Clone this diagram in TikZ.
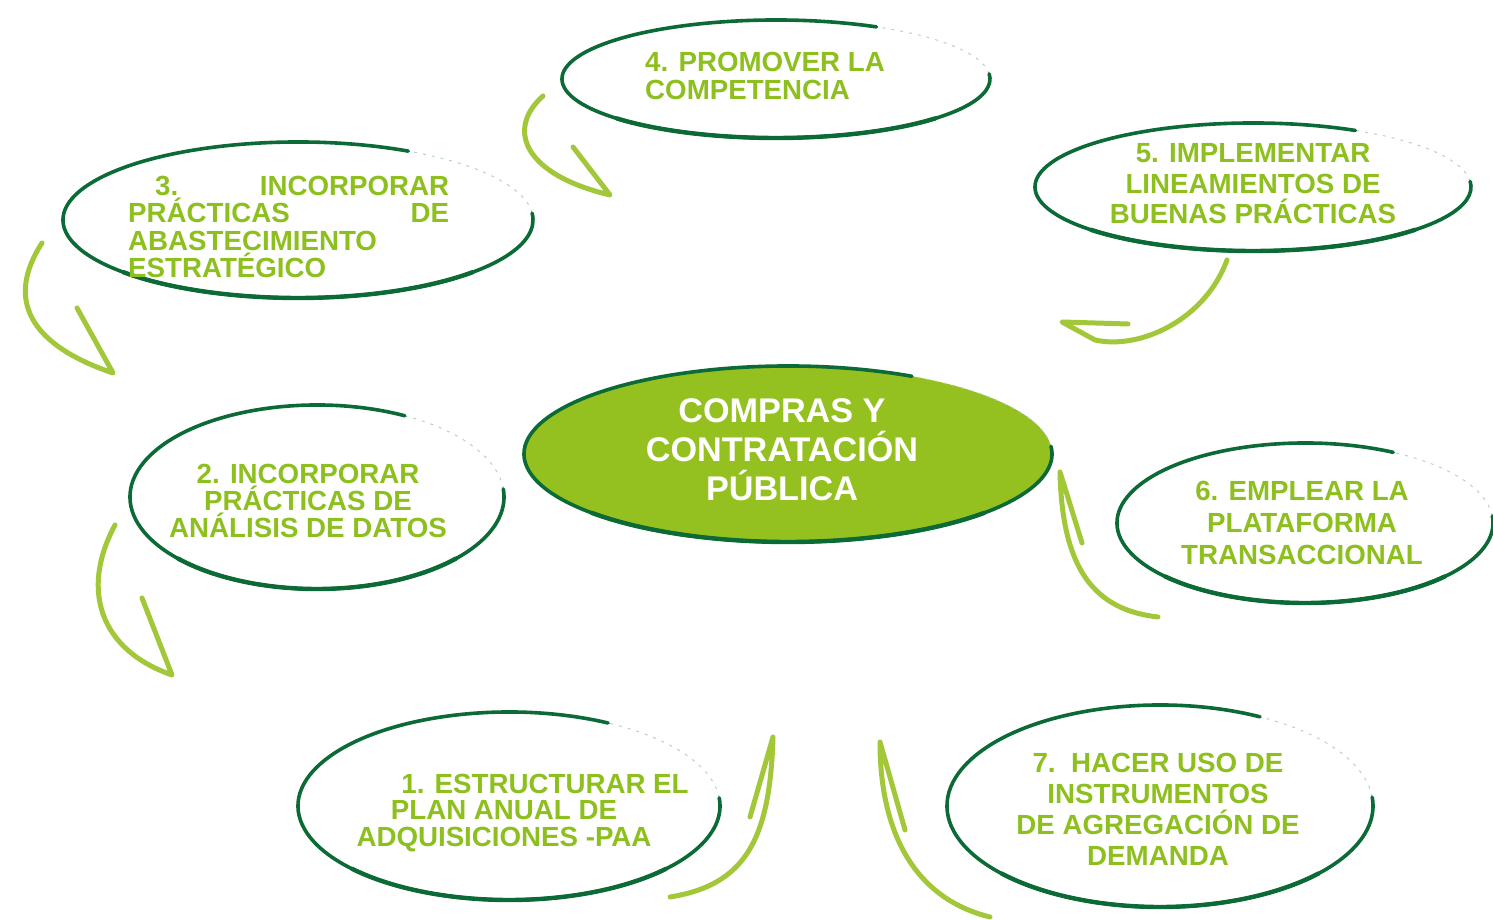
\documentclass[tikz,border=0pt]{standalone}
\usepackage{fontspec}
\setmainfont{Liberation Sans}
\usepackage{xcolor}
\usepackage{tikz}
\usetikzlibrary{calc}
\definecolor{pacgreen}{HTML}{8DBF1F}
\definecolor{pacrim}{HTML}{0B6A35}
\definecolor{pachub}{HTML}{94C11F}
\definecolor{pacarrow}{HTML}{A2C739}
% hand-drawn ring: centre, x radius, y radius (faint in the upper right)
\newcommand{\rim}[3]{%
  \draw[rimfaint] ([shift={(5:#2 and #3)}]#1) arc[start angle=5, end angle=62, x radius=#2, y radius=#3];
  \draw[rimline] ([shift={(62:#2 and #3)}]#1) arc[start angle=62, end angle=365, x radius=#2, y radius=#3];
  \draw[rimheavy] ([shift={(222:#2 and #3)}]#1) arc[start angle=222, end angle=318, x radius=#2, y radius=#3];}

\begin{document}
\begin{tikzpicture}[
  x=1pt, y=1pt,
  rimline/.style={draw=pacrim, line width=3.6pt, line cap=round},
  rimheavy/.style={draw=pacrim, line width=4.4pt, line cap=round},
  rimfaint/.style={draw=pacrim!30, line width=1pt, dash pattern=on 3pt off 6pt},
  lbl/.style={font=\fontsize{27.7}{#1}\selectfont\bfseries, text=pacgreen, inner sep=0pt},
  hubtxt/.style={font=\fontsize{34.2}{39}\selectfont\bfseries, text=white, inner sep=0pt, align=center},
  sweep/.style={draw=pacarrow, line width=5pt, line cap=round, line join=round},
]
\useasboundingbox (0,0) rectangle (1493,920);

% rings
\fill[pachub] (788,466) ellipse[x radius=264pt, y radius=88pt];
\rim{788,466}{264pt}{88pt}
\rim{776,841}{214pt}{59pt}
\rim{298,700}{235pt}{78pt}
\rim{1253,733}{218pt}{64pt}
\rim{317,423}{187pt}{92pt}
\rim{1305,397}{188pt}{80pt}
\rim{509,114}{211pt}{94pt}
\rim{1160,114}{213pt}{101pt}

% texts
\node[hubtxt] (hub) at (782,470) {COMPRAS Y\\CONTRATACIÓN\\PÚBLICA};
\node[lbl=28, anchor=west, align=left] (e4) at (645,844) {4. PROMOVER LA\\COMPETENCIA};
\node[lbl=27.5, anchor=west, align=left] (e3) at (128,693)
   {\makebox[321pt][l]{\hspace*{27pt}3.\hfill INCORPORAR}\\
    \makebox[321pt][l]{PRÁCTICAS\hfill DE}\\ABASTECIMIENTO\\ESTRATÉGICO};
\node[lbl=30.5, align=center] (e5) at (1253,736) {5. IMPLEMENTAR\\LINEAMIENTOS DE\\BUENAS PRÁCTICAS};
\node[lbl=27, align=center] (e2) at (308,419) {2. INCORPORAR\\PRÁCTICAS DE\\ANÁLISIS DE DATOS};
\node[lbl=32, align=center] (e6) at (1302,397) {6. EMPLEAR LA\\PLATAFORMA\\TRANSACCIONAL};
\node[lbl=26.5, align=center] (e1) at (504,107)
   {\hspace*{82pt}1. ESTRUCTURAR EL\\PLAN ANUAL DE\\ADQUISICIONES -PAA};
\node[lbl=31, align=center] (e7) at (1158,111)
   {7.\ \ HACER USO DE\\INSTRUMENTOS\\DE AGREGACIÓN DE\\DEMANDA};

% sweeping arrows
\coordinate (a1s) at (42,677);   \coordinate (a1t) at (113,547);  \coordinate (a1h) at (77,612);
\coordinate (a2s) at (543,824);  \coordinate (a2t) at (610,725);  \coordinate (a2h) at (573,773);
\coordinate (a3s) at (1227,660); \coordinate (a3t) at (1062,598); \coordinate (a3h) at (1128,596);
\coordinate (a4s) at (115,395);  \coordinate (a4t) at (172,245);  \coordinate (a4h) at (142,322);
\coordinate (a5s) at (1158,303); \coordinate (a5t) at (1060,448); \coordinate (a5h) at (1082,377);
\coordinate (a6s) at (670,23);   \coordinate (a6t) at (773,183);  \coordinate (a6h) at (750,103);
\coordinate (a7s) at (990,3);    \coordinate (a7t) at (880,178);  \coordinate (a7h) at (905,90);
\draw[sweep] (a1s) .. controls (5,620) and (30,575) .. (a1t) -- (a1h);
\draw[sweep] (a2s) .. controls (505,790) and (525,745) .. (a2t) -- (a2h);
\draw[sweep] (a3s) .. controls (1205,600) and (1140,570) .. (1095,580) -- (a3t) -- (a3h);
\draw[sweep] (a4s) .. controls (80,330) and (100,270) .. (a4t) -- (a4h);
\draw[sweep] (a5s) .. controls (1095,310) and (1062,350) .. (a5t) -- (a5h);
\draw[sweep] (a6s) .. controls (745,35) and (770,80) .. (a6t) -- (a6h);
\draw[sweep] (a7s) .. controls (920,20) and (880,80) .. (a7t) -- (a7h);
\end{tikzpicture}
\end{document}
